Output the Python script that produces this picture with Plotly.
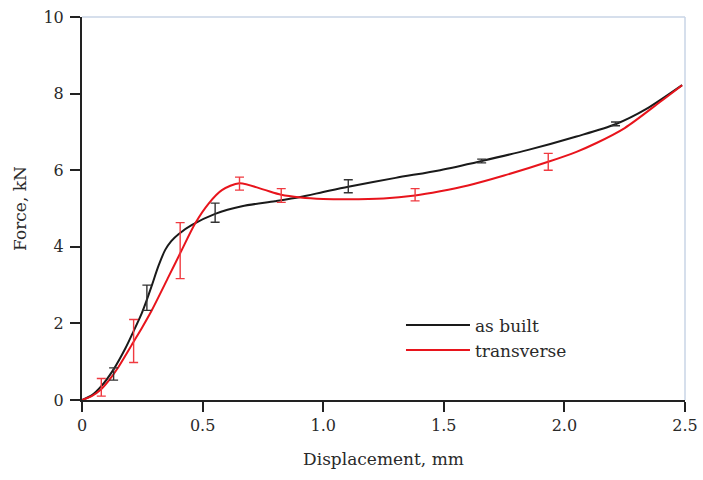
import plotly.graph_objects as go

# ---- data ----
built_x = [0, 0.04, 0.08, 0.131, 0.18, 0.214, 0.248, 0.269, 0.29, 0.317, 0.345, 0.37, 0.40, 0.456,
           0.552, 0.663, 0.8, 0.905, 1.0, 1.104, 1.3, 1.485, 1.657, 1.85, 2.05, 2.212, 2.34, 2.488]
built_y = [0, 0.12, 0.36, 0.8, 1.35, 1.8, 2.27, 2.62, 3.0, 3.5, 3.92, 4.15, 4.33, 4.57,
           4.86, 5.06, 5.19, 5.30, 5.43, 5.57, 5.80, 6.0, 6.24, 6.53, 6.88, 7.2, 7.6, 8.22]

trans_x = [0, 0.04, 0.076, 0.11, 0.152, 0.214, 0.25, 0.29, 0.359, 0.407, 0.469, 0.525, 0.58, 0.653,
           0.75, 0.826, 0.905, 1.0, 1.1, 1.25, 1.381, 1.485, 1.6, 1.75, 1.933, 2.05, 2.133, 2.25, 2.396, 2.488]
trans_y = [0, 0.1, 0.26, 0.5, 0.87, 1.52, 1.9, 2.35, 3.22, 3.83, 4.61, 5.13, 5.48, 5.66,
           5.50, 5.36, 5.29, 5.25, 5.24, 5.26, 5.34, 5.45, 5.6, 5.86, 6.22, 6.48, 6.71, 7.1, 7.78, 8.22]

built_err_x = [0.131, 0.269, 0.552, 1.104, 1.657, 2.212]
built_err_y = [0.68, 2.67, 4.89, 5.58, 6.24, 7.21]
built_err = [0.16, 0.33, 0.25, 0.17, 0.05, 0.05]

trans_err_x = [0.080, 0.214, 0.407, 0.653, 0.826, 1.381, 1.933]
trans_err_y = [0.33, 1.54, 3.90, 5.65, 5.34, 5.36, 6.22]
trans_err = [0.23, 0.56, 0.73, 0.17, 0.18, 0.16, 0.22]

x_ticks = [0, 0.5, 1.0, 1.5, 2.0, 2.5]
x_ticklabels = ["0", "0.5", "1.0", "1.5", "2.0", "2.5"]
y_ticks = [0, 2, 4, 6, 8, 10]
y_ticklabels = ["0", "2", "4", "6", "8", "10"]

FONT = "DejaVu Serif"
BLACK = "#1a1a1a"
RED = "#e8141c"
TEXT = "#2a2a2a"

fig = go.Figure()

fig.add_trace(go.Scatter(x=built_x, y=built_y, mode="lines", name="as built",
                         line=dict(color=BLACK, width=2, shape="spline", smoothing=0.8)))
fig.add_trace(go.Scatter(x=trans_x, y=trans_y, mode="lines", name="transverse",
                         line=dict(color=RED, width=2, shape="spline", smoothing=0.8)))

fig.add_trace(go.Scatter(x=built_err_x, y=built_err_y, mode="markers", showlegend=False,
                         marker=dict(size=0.1, color=BLACK, opacity=0),
                         error_y=dict(type="data", array=built_err, visible=True,
                                      color="#333333", thickness=1.4, width=4.5)))
fig.add_trace(go.Scatter(x=trans_err_x, y=trans_err_y, mode="markers", showlegend=False,
                         marker=dict(size=0.1, color=RED, opacity=0),
                         error_y=dict(type="data", array=trans_err, visible=True,
                                      color="#f03a40", thickness=1.4, width=4.5)))

axis_common = dict(showgrid=False, zeroline=False, showline=True, linecolor="#222222", linewidth=2,
                   ticks="outside", ticklen=10, tickwidth=2, tickcolor="#222222", automargin=False,
                   ticklabeloverflow="allow",
                   tickfont=dict(family=FONT, size=16, color=TEXT))

fig.update_xaxes(range=[0, 2.5], tickvals=x_ticks, ticktext=x_ticklabels,
                 title=dict(text="Displacement, mm", standoff=19,
                            font=dict(family=FONT, size=17, color=TEXT)),
                 **axis_common)
fig.update_yaxes(range=[0, 10], tickvals=y_ticks, ticktext=y_ticklabels, ticklabelstandoff=3,
                 title=dict(text="Force, kN", standoff=12,
                            font=dict(family=FONT, size=17, color=TEXT)),
                 **axis_common)

fig.add_shape(type="line", xref="paper", yref="paper", x0=0, x1=1, y0=1, y1=1,
              line=dict(color="#c8d5e6", width=1.5))
fig.add_shape(type="line", xref="paper", yref="paper", x0=1, x1=1, y0=0, y1=1,
              line=dict(color="#c8d5e6", width=1.5))

fig.update_layout(
    width=703, height=480,
    margin=dict(l=82, r=18, t=17, b=80),
    plot_bgcolor="white", paper_bgcolor="white",
    font=dict(family=FONT, color=TEXT),
    showlegend=True,
    legend=dict(x=0.529, y=0.162, xanchor="left", yanchor="middle", bgcolor="rgba(0,0,0,0)",
                font=dict(family=FONT, size=17, color=TEXT), itemwidth=64, tracegroupgap=0),
)

# remove the default 8px page margin so the figure fills the 703x480 window exactly
fig.write_html("out.html", config={"displayModeBar": False},
               post_script="document.body.style.margin='0';document.documentElement.style.overflow='hidden';")
